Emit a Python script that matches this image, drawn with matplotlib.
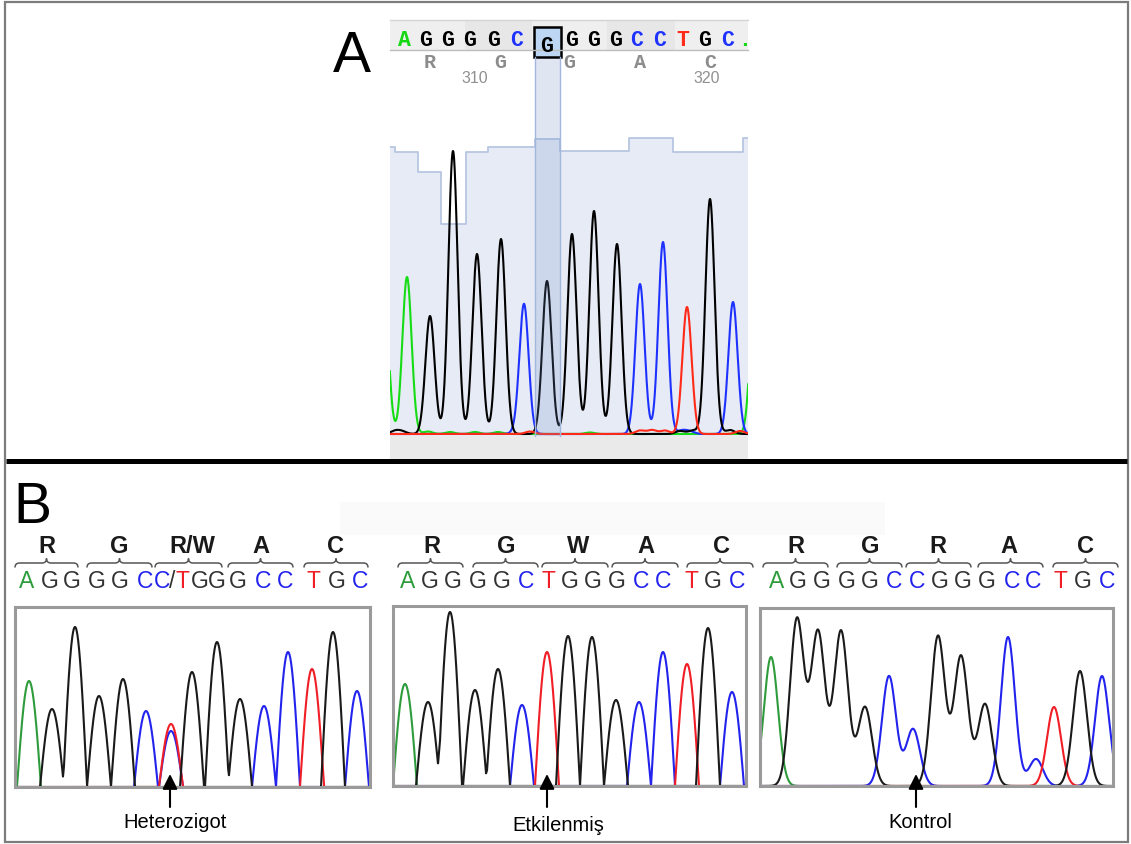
import numpy as np
import matplotlib.pyplot as plt
from matplotlib.patches import Rectangle, PathPatch
from matplotlib.path import Path

W, H = 1131, 845

# ---------------- data ----------------
# Panel A chromatogram: (scan position, intensity) per dye channel
a_green = [(-6, 1400), (17, 1570), (365, 1500), (38, 25), (60, 20), (85, 20), (108, 20), (200, 15)]
a_black = [(40, 1180), (63, 2830), (87, 1800), (111, 1950), (157, 1530), (182, 2000),
           (204, 2230), (227, 1900), (320, 2350),
           (5, 30), (12, 25), (290, 30), (303, 35), (340, 40)]
a_blue = [(134, 1300), (250, 1500), (273, 1920), (343, 1320), (292, 35), (300, 25), (125, 15)]
a_red = [(297, 1270), (140, 25), (250, 35), (262, 40), (275, 35), (350, 30)]

# Panel A quality bars (step edges in scans, quality per step)
qv_edges = [0, 5, 28, 51, 76, 98, 145, 170, 239, 283, 353, 358]
qv_vals = [2870, 2820, 2620, 2100, 2820, 2870, 2950, 2830, 2960, 2820, 2960]

# Panel A base calls and protein line
a_bases = ["A", "G", "G", "G", "G", "C", "G", "G", "G", "G", "C", "C", "T", "G", "C"]
a_aa = ["R", "G", "G", "A", "C"]
a_numbers = ["310", "320"]

# Panel B chromatograms
b1_green = [(14, 106)]
b1_black = [(37, 78), (60, 160), (84, 91), (108, 108), (177, 115), (202, 145), (225, 88), (318, 155)]
b1_blue = [(131, 76), (156, 56), (249, 81), (273, 135), (342, 96)]
b1_red = [(156, 63), (297, 118)]

b2_green = [(12, 102)]
b2_black = [(35, 84), (57, 174), (82, 96), (105, 117), (175, 150), (199, 149), (223, 86), (315, 158)]
b2_blue = [(129, 81), (246, 84), (270, 134), (339, 94)]
b2_red = [(154, 134), (294, 122)]

b3_green = [(11, 129)]
b3_black = [(37, 167), (58, 154), (81, 155), (105, 79), (178, 150), (201, 130), (225, 82), (320, 115)]
b3_blue = [(129, 110), (153, 57), (248, 149), (276, 27), (342, 110)]
b3_red = [(294, 79)]

b1_bases = ["A", "G", "G", "G", "G", "C", "C/T", "G", "G", "G", "C", "C", "T", "G", "C"]
b2_bases = ["A", "G", "G", "G", "G", "C", "T", "G", "G", "G", "C", "C", "T", "G", "C"]
b3_bases = ["A", "G", "G", "G", "G", "C", "C", "G", "G", "G", "C", "C", "T", "G", "C"]
b1_aa = ["R", "G", "R/W", "A", "C"]
b2_aa = ["R", "G", "W", "A", "C"]
b3_aa = ["R", "G", "R", "A", "C"]
b_labels = ["Heterozigot", "Etkilenmiş", "Kontrol"]

# ---------------- layout (pixels) ----------------
b1_letter_x = [27, 50, 72, 97, 120, 145, 173, 200, 217, 238, 263, 285, 313, 337, 360]
b2_letter_x = [408, 430, 453, 478, 502, 526, 548, 570, 593, 617, 641, 663, 691, 713, 737]
b3_letter_x = [777, 798, 822, 847, 870, 894, 917, 940, 963, 987, 1012, 1033, 1060, 1083, 1107]
b1_aa_x = [47, 119, 192, 261, 336]
b2_aa_x = [432, 506, 578, 646, 721]
b3_aa_x = [796, 870, 938, 1009, 1085]
b1_braces = [(15, 78), (87, 152), (155, 222), (228, 293), (304, 368)]
b2_braces = [(398, 463), (473, 538), (542, 608), (612, 678), (687, 753)]
b3_braces = [(763, 828), (837, 902), (906, 971), (978, 1043), (1053, 1118)]

SANS = "Liberation Sans"
MONO = "Liberation Mono"

fig = plt.figure(figsize=(W / 100, H / 100), dpi=100)
fig.patch.set_facecolor("white")


def px_rect(x0, y0, x1, y1):
    return [x0 / W, 1 - y1 / H, (x1 - x0) / W, (y1 - y0) / H]


def trace_gauss(x, peaks, sigma):
    y = np.zeros_like(x)
    for p, h in peaks:
        y += h * np.exp(-0.5 * ((x - p) / sigma) ** 2)
    return y


def trace_cos(x, peaks, w):
    # rounded top, sharp valleys like the processed traces
    y = np.zeros_like(x)
    for p, h in peaks:
        d = np.abs(x - p)
        y += np.where(d < w, h * np.cos(np.pi * d / (2 * w)), 0.0)
    return y


# ---------------- panel A ----------------
axA = fig.add_axes(px_rect(390, 138, 748, 437))
axA.set_xlim(0, 358)
axA.set_ylim(-20, 2970)
axA.axis("off")
qv_step = qv_vals + [qv_vals[-1]]
axA.fill_between(qv_edges, -20, qv_step, step="post", color="#E7EBF5", lw=0)
axA.step(qv_edges, qv_step, where="post", color="#B7C6E2", lw=1.3)
xa = np.linspace(-10, 368, 2000)
for peaks, col in [(a_green, "#16DC16"), (a_blue, "#1E32FF"), (a_black, "#000000"), (a_red, "#FF2A18")]:
    axA.plot(xa, trace_gauss(xa, peaks, 4.6), color=col, lw=1.5)

# ---------------- panel B ----------------
def chrom_axes(rect, xmax, ymax, chans, shape, width):
    ax = fig.add_axes(px_rect(*rect))
    ax.set_xlim(0, xmax)
    ax.set_ylim(0, ymax)
    ax.set_xticks([])
    ax.set_yticks([])
    for s in ax.spines.values():
        s.set_color("#9A9A9A")
        s.set_linewidth(2.2)
    xb = np.linspace(-20, xmax + 20, 2000)
    for peaks, col in chans:
        ax.plot(xb, shape(xb, peaks, width), color=col, lw=1.5)
    return ax


bcol = {"A": "#2E9C3C", "C": "#2323EE", "T": "#F01E26", "G": "#1A1A1A"}
chrom_axes((15, 608, 370, 788), 355, 180,
           [(b1_green, bcol["A"]), (b1_blue, bcol["C"]), (b1_red, bcol["T"]), (b1_black, bcol["G"])],
           trace_cos, 12)
chrom_axes((393, 607, 746, 787), 353, 180,
           [(b2_green, bcol["A"]), (b2_blue, bcol["C"]), (b2_red, bcol["T"]), (b2_black, bcol["G"])],
           trace_cos, 12)
chrom_axes((760, 609, 1113, 787), 353, 178,
           [(b3_green, bcol["A"]), (b3_blue, bcol["C"]), (b3_red, bcol["T"]), (b3_black, bcol["G"])],
           trace_gauss, 7.0)

# ---------------- overlay (pixel coords) ----------------
ov = fig.add_axes([0, 0, 1, 1], zorder=10)
ov.set_xlim(0, W)
ov.set_ylim(H, 0)
ov.axis("off")
ov.patch.set_alpha(0)

# frame and divider
ov.add_patch(Rectangle((5, 3), 1123, 840, fill=False, ec="#7C7C7C", lw=1.6))
ov.plot([6, 1127], [462, 462], color="black", lw=3.6, solid_capstyle="butt")
ov.add_patch(Rectangle((340, 503), 545, 33, fc="#FAFAFA", ec="none", zorder=0))

# header strip for A
codon_boxes = [(390, 465), (465, 532), (532, 607), (607, 675), (675, 748)]
for i, (x0, x1) in enumerate(codon_boxes):
    ov.add_patch(Rectangle((x0, 21), x1 - x0, 30, fc="#EFEFEF" if i % 2 == 0 else "#E7E7E7", ec="none"))
ov.plot([390, 748], [21, 21], color="#D4D4D4", lw=1)
ov.plot([390, 748], [51, 51], color="#BDBDBD", lw=1)
ov.add_patch(Rectangle((390, 437), 358, 24, fc="#EAEAEA", ec="none"))

# highlighted column
ov.add_patch(Rectangle((535, 58), 25, 379, fc="#7090C8", alpha=0.22, ec="none"))
ov.plot([535, 535], [58, 437], color="#A3B7DC", lw=1)
ov.plot([560, 560], [58, 437], color="#A3B7DC", lw=1)
ov.add_patch(Rectangle((534, 28), 27, 30, fc="#BDD6F3", ec="black", lw=1.8))

acol = {"A": "#14D814", "C": "#1E32FF", "T": "#FF2A18", "G": "#000000"}
a_letter_x = [404, 426, 448, 470, 494, 517, 547, 572, 594, 616, 637, 660, 683, 705, 728]
for i, (b, x) in enumerate(zip(a_bases, a_letter_x)):
    ov.text(x, 52 if i == 6 else 46, b, color=acol[b], family=MONO, weight="bold",
            fontsize=15.5, ha="center", va="baseline")
ov.text(745, 46, ".", color=acol["A"], family=MONO, weight="bold", fontsize=15.5, ha="center", va="baseline")
for aa, x in zip(a_aa, [430, 500, 569, 640, 710]):
    ov.text(x, 68, aa, color="#8C8C8C", family=MONO, weight="bold", fontsize=14.5, ha="center", va="baseline")
for num, x in zip(a_numbers, [475, 707]):
    ov.text(x, 83, num, color="#909090", family=SANS, fontsize=11.5, ha="center", va="baseline")

ov.text(352, 72, "A", family=SANS, fontsize=41, ha="center", va="baseline")
ov.text(32, 523, "B", family=SANS, fontsize=41, ha="center", va="baseline")


def brace(x0, x1, y, r=4.5):
    xm = (x0 + x1) / 2
    verts = [(x0, y + r), (x0, y), (x0 + r, y), (xm - r, y), (xm, y), (xm, y - r),
             (xm, y), (xm + r, y), (x1 - r, y), (x1, y), (x1, y + r)]
    codes = [Path.MOVETO, Path.CURVE3, Path.CURVE3, Path.LINETO, Path.CURVE3, Path.CURVE3,
             Path.CURVE3, Path.CURVE3, Path.LINETO, Path.CURVE3, Path.CURVE3]
    ov.add_patch(PathPatch(Path(verts, codes), fill=False, ec="#555555", lw=1.1))


panels = [(b1_bases, b1_letter_x, b1_aa, b1_aa_x, b1_braces),
          (b2_bases, b2_letter_x, b2_aa, b2_aa_x, b2_braces),
          (b3_bases, b3_letter_x, b3_aa, b3_aa_x, b3_braces)]
for bases, lx, aas, ax_x, braces in panels:
    for aa, x in zip(aas, ax_x):
        ov.text(x, 553, aa, family=SANS, weight="bold", fontsize=17, color="#1A1A1A",
                ha="center", va="baseline")
    for x0, x1 in braces:
        brace(x0, x1, 564)
    for b, x in zip(bases, lx):
        if "/" in b:
            ov.text(x - 11, 588, b[0], family=SANS, fontsize=16.5, color=bcol[b[0]], ha="center", va="baseline")
            ov.text(x - 1, 588, "/", family=SANS, fontsize=16.5, color="#333333", ha="center", va="baseline")
            ov.text(x + 9, 588, b[2], family=SANS, fontsize=16.5, color=bcol[b[2]], ha="center", va="baseline")
        else:
            ov.text(x, 588, b, family=SANS, fontsize=16.5, color=bcol[b] if b != "G" else "#333333",
                    ha="center", va="baseline")

for lab, ax_x, tx, base_y in zip(b_labels, [170, 547, 916], [175, 558, 920], [828, 831, 828]):
    ov.annotate("", xy=(ax_x, 775), xytext=(ax_x, 808),
                arrowprops=dict(arrowstyle="-|>,head_length=0.9,head_width=0.45", color="black",
                                lw=1.5, shrinkA=0, shrinkB=0))
    ov.text(tx, base_y, lab, family=SANS, fontsize=14.5, ha="center", va="baseline")

fig.savefig("out.png", dpi=100)
